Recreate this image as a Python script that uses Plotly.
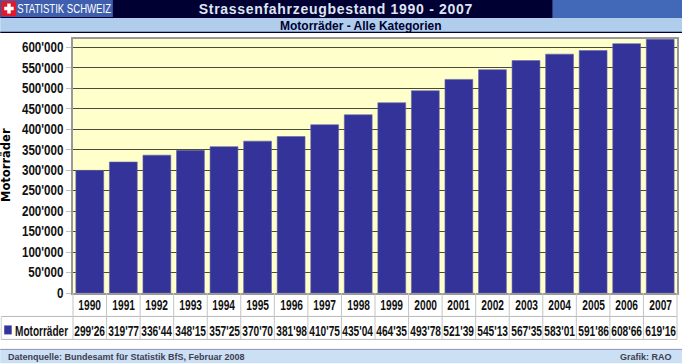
import plotly.graph_objects as go

years = [str(y) for y in range(1990, 2008)]
values = [299260, 319770, 336440, 348150, 357250, 370700, 381980, 410750, 435040,
          464350, 493780, 521390, 545130, 567350, 583010, 591860, 608660, 619160]
value_labels = ["299'26", "319'77", "336'44", "348'15", "357'25", "370'70", "381'98", "410'75", "435'04",
                "464'35", "493'78", "521'39", "545'13", "567'35", "583'01", "591'86", "608'66", "619'16"]
tick_vals = list(range(0, 650000, 50000))
tick_text = ["0"] + [f"{v // 1000}'000" for v in tick_vals[1:]]
series_name = "Motorräder"
main_title = "Strassenfahrzeugbestand 1990 - 2007"
sub_title = "Motorräder - Alle Kategorien"
source_text = "Datenquelle: Bundesamt für Statistik BfS, Februar 2008"
credit_text = "Grafik: RAO"
logo_text = "STATISTIK SCHWEIZ"

W, H = 684, 364
L, R, T, B = 73, 679, 39, 293.5
SANS = "Liberation Sans, Arial, sans-serif"
NAVY = "#000033"


def px(x):
    return (x - L) / (R - L)


def py(y):
    return (B - y) / (B - T)


def rect(x0, y0, x1, y1, fill):
    return dict(type="rect", xref="paper", yref="paper", x0=px(x0), x1=px(x1), y0=py(y0), y1=py(y1),
                fillcolor=fill, line=dict(color=fill, width=0), layer="above")


def seg(x0, y0, x1, y1, color, width=1):
    return dict(type="line", xref="paper", yref="paper", x0=px(x0), x1=px(x1), y0=py(y0), y1=py(y1),
                line=dict(color=color, width=width), layer="above")


def label(x, y, text, size, color="#000000", font=SANS, anchor="center", **kw):
    return dict(xref="paper", yref="paper", x=px(x), y=py(y), text=text, showarrow=False,
                xanchor=anchor, yanchor="middle", font=dict(size=size, color=color, family=font), **kw)


fig = go.Figure(go.Bar(x=list(range(len(years))), y=values,
                       marker=dict(color="#333399", line=dict(color="#6666a8", width=0.6)),
                       width=0.83, name=series_name))

shapes = [
    rect(0, 0, 684, 18, NAVY),
    rect(554, 0, 684, 18, "#4169b8"),
    rect(0, 0, 113, 17, "#3f5fae"),
    rect(1, 1, 16, 16, "#e2182c"),
    rect(7, 3.5, 10.5, 13.5, "#ffffff"),
    rect(4, 6.7, 13.5, 10.2, "#ffffff"),
    rect(0, 18, 684, 32, "#b0cdec"),
    seg(0, 32.3, 684, 32.3, NAVY, 1.2),
    rect(0, 350, 684, 364, "#cbdff5"),
    seg(0, 350, 684, 350, "#9090b8", 1),
    seg(1, 317, R, 317, "#b8b8b8", 1),
    seg(1, 340, R, 340, "#b8b8b8", 1),
    seg(1, 317, 1, 340, "#d0d0d0", 1),
    rect(4, 326, 11.5, 335, "#333399"),
]
step = (R - L) / len(years)
for i in range(len(years) + 1):
    xp = L + i * step
    shapes.append(seg(xp, 293.5, xp, 340, "#c4c4c4", 1))

ann = [
    label(336.5, 8.5, f"<b>{main_title}</b>", 14, "#dfe5f2"),
    label(361.5, 25.5, f"<b>{sub_title}</b>", 12, NAVY),
    label(63.5, 8.5, logo_text, 13.5, "#ffffff"),
    label(6, 165, f"<b>{series_name}</b>", 11.5, "#000000", "DejaVu Sans, sans-serif", textangle=-90),
    label(41.5, 331, f"<b>{series_name}</b>", 15, "#111111"),
    label(6, 357.5, f"<b>{source_text}</b>", 9, "#404050", anchor="left"),
    label(676, 357.5, f"<b>{credit_text}</b>", 9, "#404050", anchor="right"),
]
for i, (yr, lab) in enumerate(zip(years, value_labels)):
    ann.append(dict(x=i, xref="x", yref="paper", y=py(305), text=f"<b>{yr}</b>", showarrow=False,
                    yanchor="middle", font=dict(size=15, family=SANS, color="#111111")))
    ann.append(dict(x=i, xref="x", yref="paper", y=py(331), text=f"<b>{lab}</b>", showarrow=False,
                    yanchor="middle", font=dict(size=15, family=SANS, color="#111111")))

fig.update_layout(
    width=W, height=H, autosize=False,
    margin=dict(l=L, r=W - R, t=T, b=H - B, pad=0),
    paper_bgcolor="#ffffff", plot_bgcolor="#ffffcc",
    showlegend=False,
    shapes=shapes, annotations=ann,
    xaxis=dict(range=[-0.5, len(years) - 0.5], showticklabels=False, ticks="", showline=True, linecolor="#999999",
               linewidth=1.5, mirror=True, showgrid=False, zeroline=False, fixedrange=True),
    yaxis=dict(range=[0, 620000], tickvals=tick_vals, ticktext=tick_text, ticks="outside", ticklen=5,
               tickcolor="#c0c0c0", tickwidth=1, showline=True, linecolor="#999999", linewidth=1.5, mirror=True,
               gridcolor="#4a4a3a", gridwidth=1.3, zeroline=False, fixedrange=True,
               tickfont=dict(size=14, family=SANS, color="#111111", weight="bold")),
)
# The reference's narrow face is not installed: condense the real text in place.
POST = """
document.body.style.margin='0';
document.documentElement.style.overflow='hidden';
var narrow = {};
%s.forEach(function(t){narrow[t]=0.68;});
%s.forEach(function(t){narrow[t]=0.68;});
narrow[%r]=0.67; narrow[%r]=0.71;
%s.forEach(function(t){narrow[t]=0.83;});
document.querySelectorAll('text').forEach(function(el){
  var t = el.textContent, r = narrow[t];
  if (r && !el.style.fontFamily.includes('DejaVu')) {
    var x = parseFloat(el.getAttribute('x')) || 0;
    var old = el.getAttribute('transform') || '';
    el.setAttribute('transform', old + ' translate(' + x + ',0) scale(' + r + ',1) translate(' + (-x) + ',0)');
  }
  if (t === %r) { el.style.letterSpacing = '0.7px'; }
});
""" % (years, value_labels, series_name, logo_text, tick_text, main_title)
fig.write_html("out.html", config=dict(displayModeBar=False), post_script=POST)
